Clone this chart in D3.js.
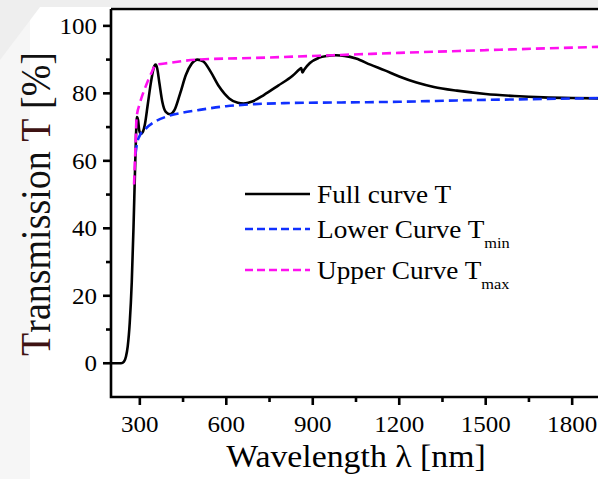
<!DOCTYPE html>
<html><head><meta charset="utf-8">
<script src="https://cdn.jsdelivr.net/npm/d3@7"></script>
<style>html,body{margin:0;padding:0;background:#fff;}svg{display:block;}</style>
</head><body>
<svg id="c" width="598" height="479"></svg>
<script>
// ---- data ----
const fullWl = [200,235,245,252,258,265,272,278,283,287,290,294,298,304,310,318,328,340,350,355,360,368,378,390,405,420,440,460,480,500,520,545,575,610,640,660,690,730,780,830,855,860,864,870,890,920,950,980,1010,1050,1100,1150,1200,1260,1320,1400,1500,1600,1700,1800,1900];
const fullT  = [0,0,0.5,2,5,12,24,40,56,68,73,72,69,68,68.5,71,77,84,88,88.5,87.5,83,77.5,74.5,73.8,75,80,85.5,88.8,90,89.5,86.5,82,78.5,77.2,77,77.6,79.5,82.3,85.2,87.2,87.5,86.2,87,89,90.5,91.1,91.3,91.1,90.3,88.5,86.8,85,83.2,81.9,80.8,79.8,79.2,78.8,78.6,78.5];
const minWl = [285,290,300,320,350,400,450,500,600,700,800,1000,1200,1400,1600,1900];
const minT  = [62,65,67.5,69.5,71.5,73.3,74.3,75,76.2,76.8,77.1,77.3,77.5,77.9,78.2,78.6];
const maxWl = [280,284,289,300,320,340,355,400,502,700,970,1200,1500,1900];
const maxT  = [53,62,73,77,82,86,88.4,89,90,90.5,91.3,92,92.8,93.8];
const xTicks = [300,600,900,1200,1500,1800];
const xMinor = [450,750,1050,1350,1650];
const yTicks = [0,20,40,60,80,100];
const yMinor = [10,30,50,70,90];
const legendLabels = [["Full curve T",""],["Lower Curve T","min"],["Upper Curve T","max"]];

const SX = 1.09; // horizontal stretch of glyphs in reference
const svg = d3.select("#c");
const W = 598, H = 479;
const x = d3.scaleLinear().domain([200,1900]).range([111,601]);
const y = d3.scaleLinear().domain([-10,105]).range([397,9]);

// background shading
svg.append("rect").attr("width",W).attr("height",H).attr("fill","#ffffff");
svg.append("rect").attr("x",0).attr("y",0).attr("width",W).attr("height",7).attr("fill","#eeeeee");
svg.append("path").attr("d","M0,7 L30,7 L30,479 L0,479 Z").attr("fill","#f6f6f6");
svg.append("path").attr("d","M0,7 L40,7 L0,60 Z").attr("fill","#eeeeee");

const font = "Liberation Serif, Times New Roman, serif";

// curves
const line = d3.line().x(d=>x(d[0])).y(d=>y(d[1])).curve(d3.curveMonotoneX);
const plot = svg.append("g");
plot.append("path").datum(fullWl.map((w,i)=>[w,fullT[i]])).attr("d",line)
  .attr("fill","none").attr("stroke","#000").attr("stroke-width",2.6).attr("stroke-linejoin","round");
plot.append("path").datum(minWl.map((w,i)=>[w,minT[i]])).attr("d",line)
  .attr("fill","none").attr("stroke","#1030ff").attr("stroke-width",2.6).attr("stroke-dasharray","9,5");
plot.append("path").datum(maxWl.map((w,i)=>[w,maxT[i]])).attr("d",line)
  .attr("fill","none").attr("stroke","#ff10f0").attr("stroke-width",2.6).attr("stroke-dasharray","9,5");

// frame
const ax = svg.append("g").attr("stroke","#000").attr("stroke-width",2.6).attr("fill","none");
ax.append("path").attr("d",`M111,${y(105)} L111,397 L${W},397`);
ax.append("line").attr("x1",111).attr("x2",W).attr("y1",y(105)).attr("y2",y(105));
xTicks.forEach(t=>ax.append("line").attr("x1",x(t)).attr("x2",x(t)).attr("y1",397).attr("y2",405));
xMinor.forEach(t=>ax.append("line").attr("x1",x(t)).attr("x2",x(t)).attr("y1",397).attr("y2",402));
yTicks.forEach(t=>ax.append("line").attr("x1",103).attr("x2",111).attr("y1",y(t)).attr("y2",y(t)));
yMinor.forEach(t=>ax.append("line").attr("x1",106).attr("x2",111).attr("y1",y(t)).attr("y2",y(t)));

function stext(px,py,str,size,anchor){
  const g = svg.append("g").attr("transform",`translate(${px},${py}) scale(${SX},1)`);
  return g.append("text").attr("text-anchor",anchor||"start").attr("font-family",font)
    .attr("font-size",size).attr("fill","#000").text(str);
}
xTicks.forEach(t=>stext(x(t),432,String(t),23,"middle"));
yTicks.forEach(t=>stext(97,y(t)+8,String(t),23,"end"));

// axis titles
stext(356,467,"Wavelength λ [nm]",31,"middle");
const yt = svg.append("g").attr("transform",`translate(50,204) scale(${SX},1) rotate(-90)`)
  .append("text").attr("text-anchor","middle").attr("font-family",font).attr("font-size",38).attr("fill","#111");
yt.append("tspan").attr("fill","#3e1212").text("T");
yt.append("tspan").text("ransmission ");
yt.append("tspan").attr("fill","#3e1212").text("T");
yt.append("tspan").text(" [%]");

// legend
const legY = [194,229,270];
const legStyle = [["#000",null],["#1030ff","8,4"],["#ff10f0","8,4"]];
legendLabels.forEach((l,i)=>{
  svg.append("line").attr("x1",245).attr("x2",310).attr("y1",legY[i]).attr("y2",legY[i])
    .attr("stroke",legStyle[i][0]).attr("stroke-width",2.6).attr("stroke-dasharray",legStyle[i][1]);
  const t = stext(317,legY[i]+9,"",25,"start");
  t.append("tspan").text(l[0]);
  if(l[1]) t.append("tspan").attr("font-size",15).attr("dy",9.5).text(l[1]);
});
</script>
</body></html>
